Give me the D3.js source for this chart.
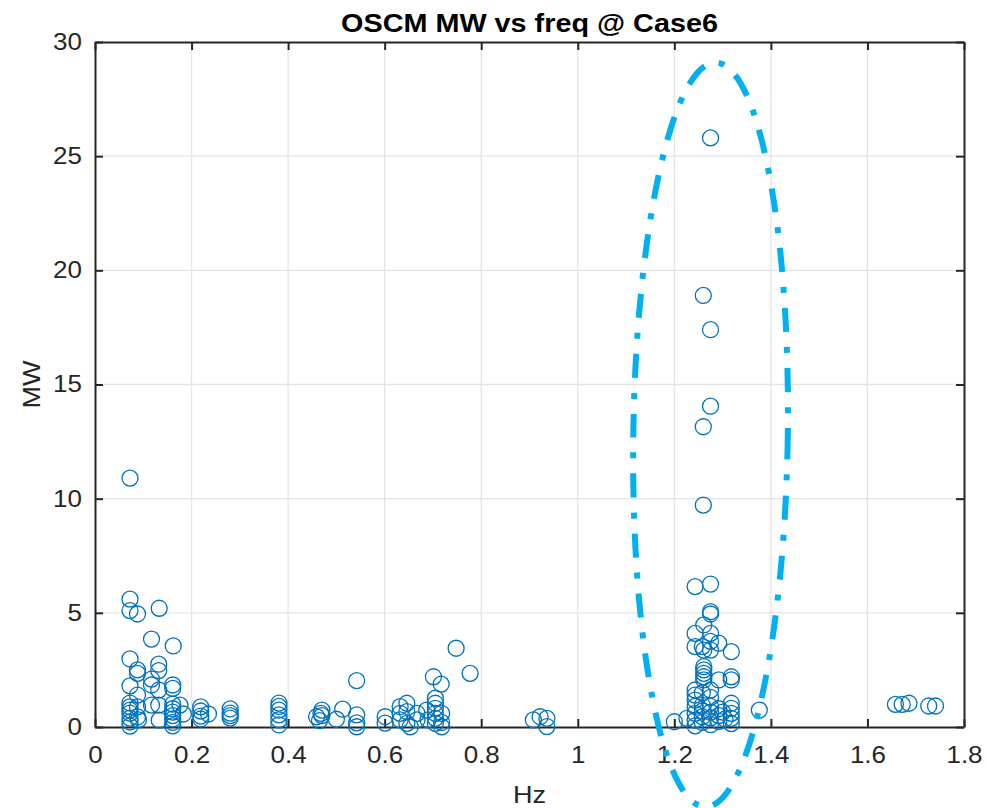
<!DOCTYPE html>
<html>
<head>
<meta charset="utf-8">
<script src="https://cdn.jsdelivr.net/npm/d3@7"></script>
<style>
  body { margin: 0; background: #fff; }
  text { font-family: "Liberation Sans", Arial, sans-serif; fill: #262626; }
</style>
</head>
<body>
<div id="container"></div>
<script>
// Axis ticks
const xTicks = [0, 0.2, 0.4, 0.6, 0.8, 1, 1.2, 1.4, 1.6, 1.8];
const yTicks = [0, 5, 10, 15, 20, 25, 30];

// OSCM points: [freq Hz, MW]
const oscmPoints = [
  // ~0.07-0.09 Hz
  [0.0725, 10.9], [0.0725, 5.6], [0.0725, 5.1], [0.088, 4.95], [0.0725, 2.98], [0.088, 2.5],
  [0.088, 2.35], [0.0725, 1.8], [0.088, 1.4], [0.0725, 1.05], [0.0725, 0.88], [0.0725, 0.74],
  [0.0725, 0.61], [0.0725, 0.39], [0.0725, 0.22], [0.0725, 0.04], [0.088, 0.88], [0.088, 0.44],
  // ~0.12-0.13 Hz
  [0.133, 5.2], [0.117, 3.85], [0.132, 2.75], [0.132, 2.47], [0.117, 2.1], [0.117, 1.84],
  [0.132, 1.62], [0.117, 0.96], [0.132, 0.96], [0.133, 0.3], [0.09, 0.31],
  // ~0.16-0.18 Hz
  [0.162, 3.55], [0.161, 1.84], [0.161, 1.69], [0.161, 1.0], [0.161, 0.8], [0.161, 0.65],
  [0.161, 0.5], [0.161, 0.35], [0.161, 0.2], [0.161, 0.05], [0.176, 0.96], [0.183, 0.57],
  // ~0.22-0.28 Hz
  [0.219, 0.88], [0.219, 0.7], [0.219, 0.48], [0.235, 0.57], [0.219, 0.35],
  [0.28, 0.79], [0.28, 0.61], [0.28, 0.5], [0.28, 0.39],
  // ~0.38 Hz
  [0.381, 1.05], [0.381, 0.9], [0.381, 0.74], [0.381, 0.53], [0.381, 0.31], [0.381, 0.09],
  // ~0.45-0.54 Hz
  [0.459, 0.45], [0.468, 0.6], [0.47, 0.74], [0.465, 0.28], [0.47, 0.5],
  [0.513, 0.78], [0.5, 0.34], [0.542, 2.03], [0.542, 0.53], [0.542, 0.18], [0.542, 0.01],
  // ~0.60-0.67 Hz
  [0.601, 0.45], [0.601, 0.17], [0.632, 0.89], [0.646, 1.04], [0.632, 0.6], [0.646, 0.67],
  [0.632, 0.31], [0.646, 0.16], [0.653, 0.01], [0.667, 0.6], [0.667, 0.31],
  // ~0.69-0.78 Hz
  [0.701, 2.2], [0.717, 1.88], [0.705, 1.26], [0.705, 1.04], [0.705, 0.82], [0.705, 0.6],
  [0.705, 0.38], [0.705, 0.16], [0.687, 0.74], [0.718, 0.6], [0.718, 0.2], [0.718, 0.01],
  [0.69, 0.31], [0.748, 3.45], [0.777, 2.35],
  // ~0.91-0.94 Hz
  [0.908, 0.31], [0.922, 0.45], [0.936, 0.38], [0.936, 0.02],
  // ~1.2-1.38 Hz (circled group)
  [1.2, 0.23], [1.226, 0.38], [1.243, 6.15], [1.275, 6.26], [1.275, 5.05], [1.275, 4.95],
  [1.243, 4.1], [1.261, 4.47], [1.275, 4.1], [1.243, 3.52], [1.258, 3.52], [1.261, 3.37],
  [1.275, 3.75], [1.275, 3.37], [1.292, 3.67], [1.318, 3.3], [1.261, 2.64], [1.261, 2.5],
  [1.261, 2.35], [1.261, 2.2], [1.261, 2.06], [1.292, 2.06], [1.318, 2.2], [1.318, 2.06],
  [1.243, 1.62], [1.243, 1.4], [1.243, 1.18], [1.258, 1.5], [1.275, 1.62], [1.275, 1.3],
  [1.318, 1.04], [1.318, 0.82], [1.318, 0.6], [1.318, 0.38], [1.376, 0.74],
  [1.243, 0.9], [1.243, 0.6], [1.243, 0.3], [1.243, 0.05], [1.258, 0.95], [1.258, 0.7],
  [1.258, 0.45], [1.258, 0.2], [1.275, 0.9], [1.275, 0.65], [1.275, 0.4], [1.275, 0.1],
  [1.292, 0.8], [1.292, 0.5], [1.292, 0.25], [1.3, 0.65], [1.305, 0.35], [1.318, 0.15],
  [1.275, 25.8], [1.26, 18.9], [1.275, 17.4], [1.275, 14.05], [1.26, 13.15], [1.26, 9.72],
  // ~1.65-1.75 Hz
  [1.658, 0.99], [1.672, 0.99], [1.686, 1.04], [1.727, 0.92], [1.741, 0.92]
];

// Highlight ellipse (data units): center, half-width, half-height, tilt in degrees
const ringCenter = [1.275, 12.8];
const ringRadius = [0.16, 16.3];
const ringTilt = 0.8;

const W = 987, H = 808;
const m = { left: 95, right: 23, top: 42, bottom: 81 };
const stretch = 1.13; // text in the figure is drawn a bit wide

const svg = d3.select('#container').append('svg')
  .attr('width', W)
  .attr('height', H);

// Scales
const x = d3.scaleLinear().domain([0, 1.8]).range([m.left, W - m.right]);
const y = d3.scaleLinear().domain([0, 30]).range([H - m.bottom, m.top]);

// Grid
svg.append('g').selectAll('line').data(xTicks.slice(1, -1)).join('line')
  .attr('x1', d => x(d)).attr('x2', d => x(d))
  .attr('y1', y(0)).attr('y2', y(30))
  .attr('stroke', '#e5e5e5').attr('stroke-width', 1.3);
svg.append('g').selectAll('line').data(yTicks.slice(1, -1)).join('line')
  .attr('y1', d => y(d)).attr('y2', d => y(d))
  .attr('x1', x(0)).attr('x2', x(1.8))
  .attr('stroke', '#e5e5e5').attr('stroke-width', 1.3);

// Axes (inward ticks, box)
const fmt = d => String(d);
const gx = svg.append('g').attr('transform', `translate(0,${y(0)})`)
  .call(d3.axisBottom(x).tickValues(xTicks).tickFormat(fmt).tickSizeInner(-8).tickSizeOuter(0).tickPadding(20));
svg.append('g').attr('transform', `translate(0,${y(30)})`)
  .call(d3.axisTop(x).tickValues(xTicks).tickFormat('').tickSizeInner(-8).tickSizeOuter(0));
const gy = svg.append('g').attr('transform', `translate(${x(0)},0)`)
  .call(d3.axisLeft(y).tickValues(yTicks).tickFormat(fmt).tickSizeInner(-8).tickSizeOuter(0).tickPadding(12));
svg.append('g').attr('transform', `translate(${x(1.8)},0)`)
  .call(d3.axisRight(y).tickValues(yTicks).tickFormat('').tickSizeInner(-8).tickSizeOuter(0));

svg.selectAll('.domain').attr('stroke', '#262626').attr('stroke-width', 2);
svg.selectAll('.tick line').attr('stroke', '#262626').attr('stroke-width', 2);
svg.selectAll('.tick text').attr('font-size', 23).attr('fill', '#262626')
  .attr('font-family', '"Liberation Sans", Arial, sans-serif');
gx.selectAll('.tick text').attr('transform', `scale(${stretch},1)`);
gy.selectAll('.tick text')
  .attr('x', -12 / stretch - 1)
  .attr('transform', `scale(${stretch},1)`);

// Markers
svg.append('g').selectAll('circle').data(oscmPoints).join('circle')
  .attr('cx', d => x(d[0]))
  .attr('cy', d => y(d[1]))
  .attr('r', 8)
  .attr('fill', 'none')
  .attr('stroke', '#0072BD')
  .attr('stroke-width', 1.3);

// Dash-dot ellipse annotation
svg.append('ellipse')
  .attr('transform', `translate(${x(ringCenter[0])},${y(ringCenter[1])}) rotate(${ringTilt})`)
  .attr('rx', x(ringRadius[0]) - x(0))
  .attr('ry', y(0) - y(ringRadius[1]))
  .attr('fill', 'none')
  .attr('stroke', '#00B0F0')
  .attr('stroke-width', 6)
  .attr('stroke-dasharray', '24,15,6,15');

// Labels
const cx = (x(0) + x(1.8)) / 2;
svg.append('text')
  .attr('transform', `translate(${cx},32) scale(${stretch},1)`)
  .attr('text-anchor', 'middle')
  .attr('font-size', 25.5).attr('font-weight', 'bold').style('fill', '#000')
  .text('OSCM MW vs freq @ Case6');
svg.append('text')
  .attr('transform', `translate(${cx},803) scale(${stretch},1)`)
  .attr('text-anchor', 'middle').attr('font-size', 24)
  .text('Hz');
svg.append('text')
  .attr('transform', `translate(40,${(y(0) + y(30)) / 2}) rotate(-90) scale(${stretch},1)`)
  .attr('text-anchor', 'middle').attr('font-size', 24)
  .text('MW');
</script>
</body>
</html>
